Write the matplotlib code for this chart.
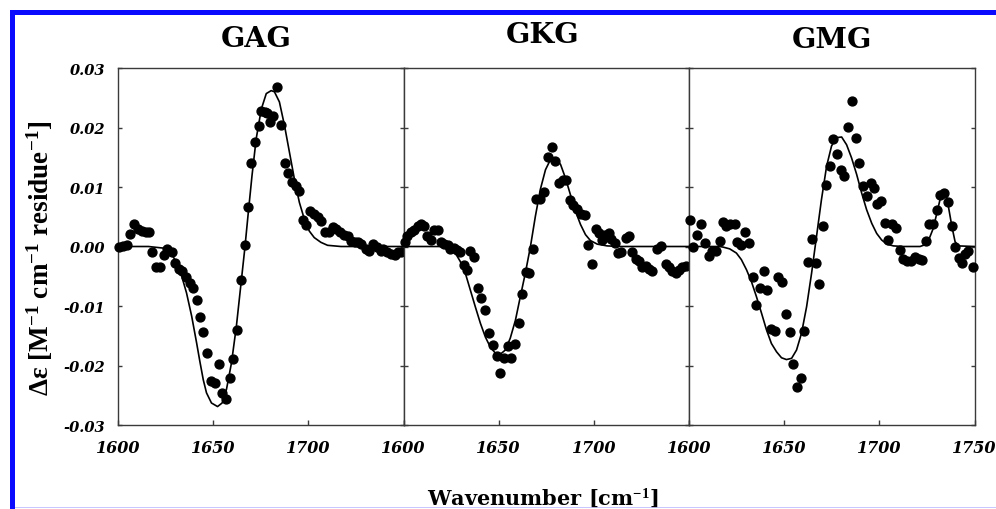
import matplotlib
matplotlib.use("Agg")
import matplotlib.pyplot as plt
from matplotlib.patches import Rectangle

plt.rcParams['mathtext.fontset'] = 'custom'
plt.rcParams['mathtext.rm'] = 'Liberation Serif:bold'
plt.rcParams['mathtext.bf'] = 'Liberation Serif:bold'
plt.rcParams['mathtext.default'] = 'bf'

# ---------------- data ----------------
titles = ["GAG", "GKG", "GMG"]

gag_wn = [1600.3, 1602.4, 1604.7, 1606.4, 1608.5, 1610.5, 1612.5, 1614.6, 1616.4, 1618.1,
          1619.9, 1622.1, 1624.4, 1626.0, 1628.2, 1630.0, 1632.1, 1633.8, 1635.5, 1637.6,
          1639.5, 1641.3, 1643.2, 1644.9, 1647.0, 1648.8, 1650.9, 1653.0, 1654.7, 1656.8,
          1658.7, 1660.6, 1662.7, 1664.5, 1666.6, 1668.3, 1670.0, 1672.0, 1673.9, 1675.3,
          1677.0, 1678.4, 1679.6, 1681.4, 1683.4, 1685.7, 1687.5, 1689.2, 1691.3, 1693.6,
          1695.3, 1697.2, 1699.0, 1701.0, 1703.1, 1705.2, 1706.6, 1708.7, 1710.6, 1712.7,
          1714.5, 1716.6, 1718.8, 1720.6, 1722.6, 1724.4, 1726.1, 1727.9, 1730.3, 1732.1,
          1734.1, 1735.9, 1738.0, 1739.4, 1741.1, 1743.2, 1745.3, 1747.0, 1748.8]
gag_val = [0.0000, 0.0001, 0.0003, 0.0021, 0.0037, 0.0030, 0.0026, 0.0025, 0.0024, -0.0009,
           -0.0034, -0.0034, -0.0015, -0.0005, -0.0009, -0.0028, -0.0038, -0.0042, -0.0052, -0.0061,
           -0.0070, -0.0090, -0.0119, -0.0144, -0.0179, -0.0226, -0.0230, -0.0197, -0.0246, -0.0257,
           -0.0221, -0.0189, -0.0140, -0.0057, 0.0002, 0.0067, 0.0140, 0.0176, 0.0202, 0.0227,
           0.0226, 0.0225, 0.0209, 0.0219, 0.0268, 0.0204, 0.0140, 0.0123, 0.0108, 0.0101,
           0.0093, 0.0045, 0.0036, 0.0060, 0.0054, 0.0049, 0.0043, 0.0025, 0.0024, 0.0032,
           0.0030, 0.0024, 0.0020, 0.0018, 0.0010, 0.0008, 0.0008, 0.0004, -0.0004, -0.0008,
           0.0004, 0.0000, -0.0007, -0.0004, -0.0009, -0.0013, -0.0015, -0.0010, -0.0009]
gag_fit_wn = [1600.0, 1616.0, 1624.7, 1628.2, 1630.8, 1633.4, 1636.0, 1638.7, 1641.3, 1643.0,
              1644.8, 1646.5, 1649.1, 1652.3, 1654.7, 1657.0, 1659.6, 1662.2, 1664.5, 1666.6,
              1668.3, 1670.4, 1672.6, 1675.3, 1677.9, 1680.5, 1682.2, 1684.8, 1687.5, 1690.1,
              1692.7, 1695.3, 1697.9, 1700.5, 1703.1, 1706.6, 1710.1, 1717.1, 1750.0]
gag_fit_val = [0.0, 0.0, -0.0003, -0.0013, -0.0027, -0.0049, -0.0078, -0.0117, -0.0162, -0.0193,
               -0.0224, -0.0246, -0.0263, -0.0269, -0.0263, -0.0240, -0.0196, -0.0134, -0.0066, -0.0004,
               0.0052, 0.0119, 0.0181, 0.0231, 0.0257, 0.0262, 0.0260, 0.0243, 0.0203, 0.0158,
               0.0113, 0.0074, 0.0046, 0.0026, 0.0015, 0.0007, 0.0002, 0.0, 0.0]

gkg_wn = [1600.9, 1602.1, 1603.9, 1605.6, 1607.4, 1609.1, 1610.9, 1612.6, 1614.4, 1616.1,
          1617.9, 1619.6, 1621.4, 1623.2, 1624.6, 1626.3, 1628.1, 1629.8, 1631.6, 1633.3,
          1635.1, 1637.2, 1638.9, 1640.9, 1643.0, 1644.7, 1647.0, 1649.1, 1650.9, 1652.6,
          1654.7, 1656.7, 1658.8, 1660.5, 1662.5, 1664.4, 1666.1, 1668.1, 1669.8, 1671.9,
          1674.0, 1675.8, 1678.1, 1679.8, 1681.6, 1683.9, 1685.6, 1687.4, 1689.1, 1690.9,
          1693.0, 1695.1, 1696.8, 1698.9, 1700.9, 1702.6, 1704.4, 1706.1, 1707.9, 1709.1,
          1710.9, 1712.6, 1714.4, 1716.7, 1718.6, 1720.2, 1721.9, 1723.7, 1725.4, 1727.2,
          1728.9, 1730.7, 1733.3, 1735.4, 1737.7, 1739.5, 1741.2, 1743.0, 1744.7, 1746.5,
          1748.2]
gkg_val = [0.0008, 0.0017, 0.0024, 0.0028, 0.0035, 0.0038, 0.0034, 0.0017, 0.0011, 0.0028,
           0.0028, 0.0007, 0.0004, 0.0002, -0.0004, -0.0003, -0.0006, -0.0010, -0.0031, -0.0040,
           -0.0007, -0.0018, -0.0069, -0.0087, -0.0107, -0.0146, -0.0166, -0.0184, -0.0213, -0.0187,
           -0.0167, -0.0187, -0.0164, -0.0129, -0.0079, -0.0043, -0.0044, -0.0004, 0.0079, 0.0079,
           0.0092, 0.0151, 0.0167, 0.0143, 0.0107, 0.0111, 0.0111, 0.0078, 0.0070, 0.0063,
           0.0055, 0.0053, 0.0003, -0.0030, 0.0029, 0.0022, 0.0011, 0.0020, 0.0022, 0.0013,
           0.0006, -0.0011, -0.0010, 0.0015, 0.0018, -0.0010, -0.0021, -0.0024, -0.0034, -0.0033,
           -0.0037, -0.0042, -0.0004, 0.0001, -0.0029, -0.0035, -0.0041, -0.0045, -0.0039, -0.0035,
           -0.0033]
gkg_fit_wn = [1600.0, 1620.0, 1624.6, 1627.2, 1629.8, 1632.5, 1635.1, 1637.7, 1640.4, 1643.0,
              1645.6, 1648.2, 1650.9, 1653.5, 1656.1, 1658.8, 1661.4, 1664.0, 1666.7, 1669.3,
              1671.9, 1674.6, 1677.2, 1679.8, 1682.5, 1685.1, 1687.7, 1690.4, 1693.0, 1695.6,
              1698.2, 1701.8, 1707.0, 1714.0, 1750.0]
gkg_fit_val = [0.0, 0.0, -0.0003, -0.0011, -0.0025, -0.0045, -0.0073, -0.0101, -0.0129, -0.0152,
               -0.0169, -0.0179, -0.0181, -0.0174, -0.0154, -0.0124, -0.0084, -0.0045, 0.0000, 0.0051,
               0.0096, 0.0129, 0.0146, 0.0148, 0.0138, 0.0115, 0.0087, 0.0059, 0.0037, 0.0020,
               0.0010, 0.0004, 0.0001, 0.0, 0.0]

gmg_wn = [1600.4, 1602.1, 1604.4, 1606.5, 1608.2, 1610.4, 1612.1, 1614.4, 1616.1, 1617.9,
          1619.6, 1621.8, 1624.0, 1625.3, 1627.5, 1629.6, 1631.4, 1633.7, 1635.4, 1637.2,
          1639.5, 1641.2, 1643.3, 1645.1, 1646.8, 1649.1, 1650.9, 1653.0, 1654.7, 1656.5,
          1658.6, 1660.4, 1662.3, 1664.4, 1666.5, 1668.2, 1670.2, 1671.9, 1674.0, 1675.8,
          1677.9, 1679.6, 1681.4, 1683.7, 1685.4, 1687.5, 1689.3, 1691.2, 1693.3, 1695.4,
          1697.2, 1698.9, 1700.7, 1703.0, 1704.7, 1706.5, 1708.6, 1710.9, 1712.6, 1714.4,
          1716.5, 1718.8, 1720.9, 1722.6, 1724.4, 1726.1, 1728.4, 1730.2, 1731.9, 1734.0,
          1736.3, 1738.1, 1739.8, 1741.6, 1743.3, 1745.1, 1746.8, 1749.0]
gmg_val = [0.0045, 0.0000, 0.0019, 0.0038, 0.0006, -0.0016, -0.0008, -0.0007, 0.0010, 0.0041,
           0.0035, 0.0037, 0.0038, 0.0008, 0.0003, 0.0025, 0.0006, -0.0051, -0.0099, -0.0070,
           -0.0042, -0.0073, -0.0138, -0.0142, -0.0052, -0.0059, -0.0114, -0.0143, -0.0198, -0.0236,
           -0.0221, -0.0142, -0.0026, 0.0013, -0.0028, -0.0063, 0.0035, 0.0104, 0.0135, 0.0181,
           0.0156, 0.0128, 0.0119, 0.0201, 0.0244, 0.0182, 0.0140, 0.0101, 0.0085, 0.0106,
           0.0098, 0.0072, 0.0076, 0.0039, 0.0011, 0.0038, 0.0031, -0.0006, -0.0021, -0.0024,
           -0.0024, -0.0017, -0.0021, -0.0022, 0.0010, 0.0038, 0.0038, 0.0062, 0.0087, 0.0090,
           0.0074, 0.0035, 0.0000, -0.0020, -0.0028, -0.0013, -0.0008, -0.0035]
gmg_fit_wn = [1600.0, 1616.0, 1617.9, 1621.4, 1624.9, 1627.5, 1630.2, 1632.8, 1635.4, 1638.1,
              1640.7, 1643.3, 1646.0, 1648.6, 1651.2, 1653.9, 1656.5, 1659.1, 1661.8, 1664.4,
              1667.0, 1669.6, 1672.3, 1674.9, 1677.5, 1680.2, 1682.8, 1685.4, 1688.1, 1690.7,
              1693.3, 1696.0, 1698.6, 1701.2, 1703.9, 1707.4, 1712.6, 1721.4, 1724.0, 1726.3,
              1728.4, 1730.2, 1731.9, 1733.7, 1735.1, 1736.3, 1738.1, 1739.8, 1741.6, 1750.0]
gmg_fit_val = [0.0, 0.0, -0.0001, -0.0004, -0.0011, -0.0022, -0.0039, -0.0059, -0.0084, -0.0112,
               -0.0140, -0.0163, -0.0177, -0.0187, -0.0190, -0.0188, -0.0174, -0.0146, -0.0101, -0.0045,
               0.0017, 0.0079, 0.0135, 0.0169, 0.0183, 0.0184, 0.0171, 0.0149, 0.0121, 0.0090,
               0.0062, 0.0039, 0.0022, 0.0011, 0.0004, 0.0001, 0.0, 0.0, 0.0003, 0.0014,
               0.0031, 0.0056, 0.0079, 0.0090, 0.0087, 0.0067, 0.0034, 0.0008, 0.0001, 0.0]

x_ticks = [1600, 1650, 1700, 1750]
y_ticks = [-0.03, -0.02, -0.01, 0.00, 0.01, 0.02, 0.03]
y_ticklabels = ["-0.03", "-0.02", "-0.01", "0.00", "0.01", "0.02", "0.03"]

panels = [
    (gag_wn, gag_val, gag_fit_wn, gag_fit_val),
    (gkg_wn, gkg_val, gkg_fit_wn, gkg_fit_val),
    (gmg_wn, gmg_val, gmg_fit_wn, gmg_fit_val),
]

# ---------------- figure ----------------
W, H = 996, 510
fig = plt.figure(figsize=(W / 100, H / 100), dpi=100)

def fx(px):
    return px / W

def fy(py):
    return 1 - py / H

lefts = [118, 403.5, 689]
width = 285.5
top_px, bot_px = 69, 426

spine_color = "#3a3a3a"

title_pos = [(256, 47), (543, 43), (832, 48)]

for i, (wn, val, fwn, fval) in enumerate(panels):
    ax = fig.add_axes([fx(lefts[i]), fy(bot_px), width / W, (bot_px - top_px) / H])
    ax.plot(fwn, fval, color="black", lw=1.2, zorder=2)
    ax.plot(wn, val, "o", color="black", ms=6.4, mec="black", clip_on=False, zorder=3)
    ax.set_xlim(1600, 1750)
    ax.set_ylim(-0.03, 0.03)
    for s in ax.spines.values():
        s.set_color(spine_color)
        s.set_linewidth(1.0)
    ax.set_xticks(x_ticks)
    if i < 2:
        ax.set_xticklabels(["1600", "1650", "1700", ""])
    else:
        ax.set_xticklabels(["1600", "1650", "1700", "1750"])
    ax.set_yticks(y_ticks)
    if i == 0:
        ax.set_yticklabels(y_ticklabels)
    else:
        ax.set_yticklabels([""] * len(y_ticks))
    ax.tick_params(axis="x", direction="in", length=3.5, width=1, color=spine_color,
                   pad=10, labelsize=11.5, top=False)
    ax.tick_params(axis="y", direction="in", length=3, width=1, color=spine_color,
                   pad=9, labelsize=10.5, left=True, right=True)
    for lab in ax.get_xticklabels() + ax.get_yticklabels():
        lab.set_fontfamily("DejaVu Serif")
        lab.set_fontweight("bold")
        lab.set_fontstyle("italic")
    tx, ty = title_pos[i]
    fig.text(fx(tx), fy(ty), titles[i], ha="center", va="baseline",
             fontsize=20.5, fontweight="bold", family="DejaVu Serif")

fig.text(fx(543), fy(505), r"Wavenumber [cm$^{-1}$]", ha="center", va="baseline",
         fontsize=15, fontweight="bold", family="DejaVu Serif")
fig.text(fx(40), fy(258), r"Δε [M$^{-1}$ cm$^{-1}$ residue$^{-1}$]", ha="center", va="center",
         rotation=90, fontsize=19.5, fontweight="bold", family=["Liberation Serif", "DejaVu Serif"])

# blue frame
blue = "#0a0aff"
fig.patches.append(Rectangle((fx(10), fy(16)), 1 - fx(10), 5 / H, transform=fig.transFigure,
                             facecolor=blue, edgecolor="none", zorder=0))
fig.patches.append(Rectangle((fx(10), 0), 5 / W, fy(11), transform=fig.transFigure,
                             facecolor=blue, edgecolor="none", zorder=0))
fig.patches.append(Rectangle((fx(15), fy(509)), 1 - fx(15), 1.2 / H, transform=fig.transFigure,
                             facecolor="#c8c8ff", edgecolor="none", zorder=0))

fig.savefig("out.png", dpi=100)
